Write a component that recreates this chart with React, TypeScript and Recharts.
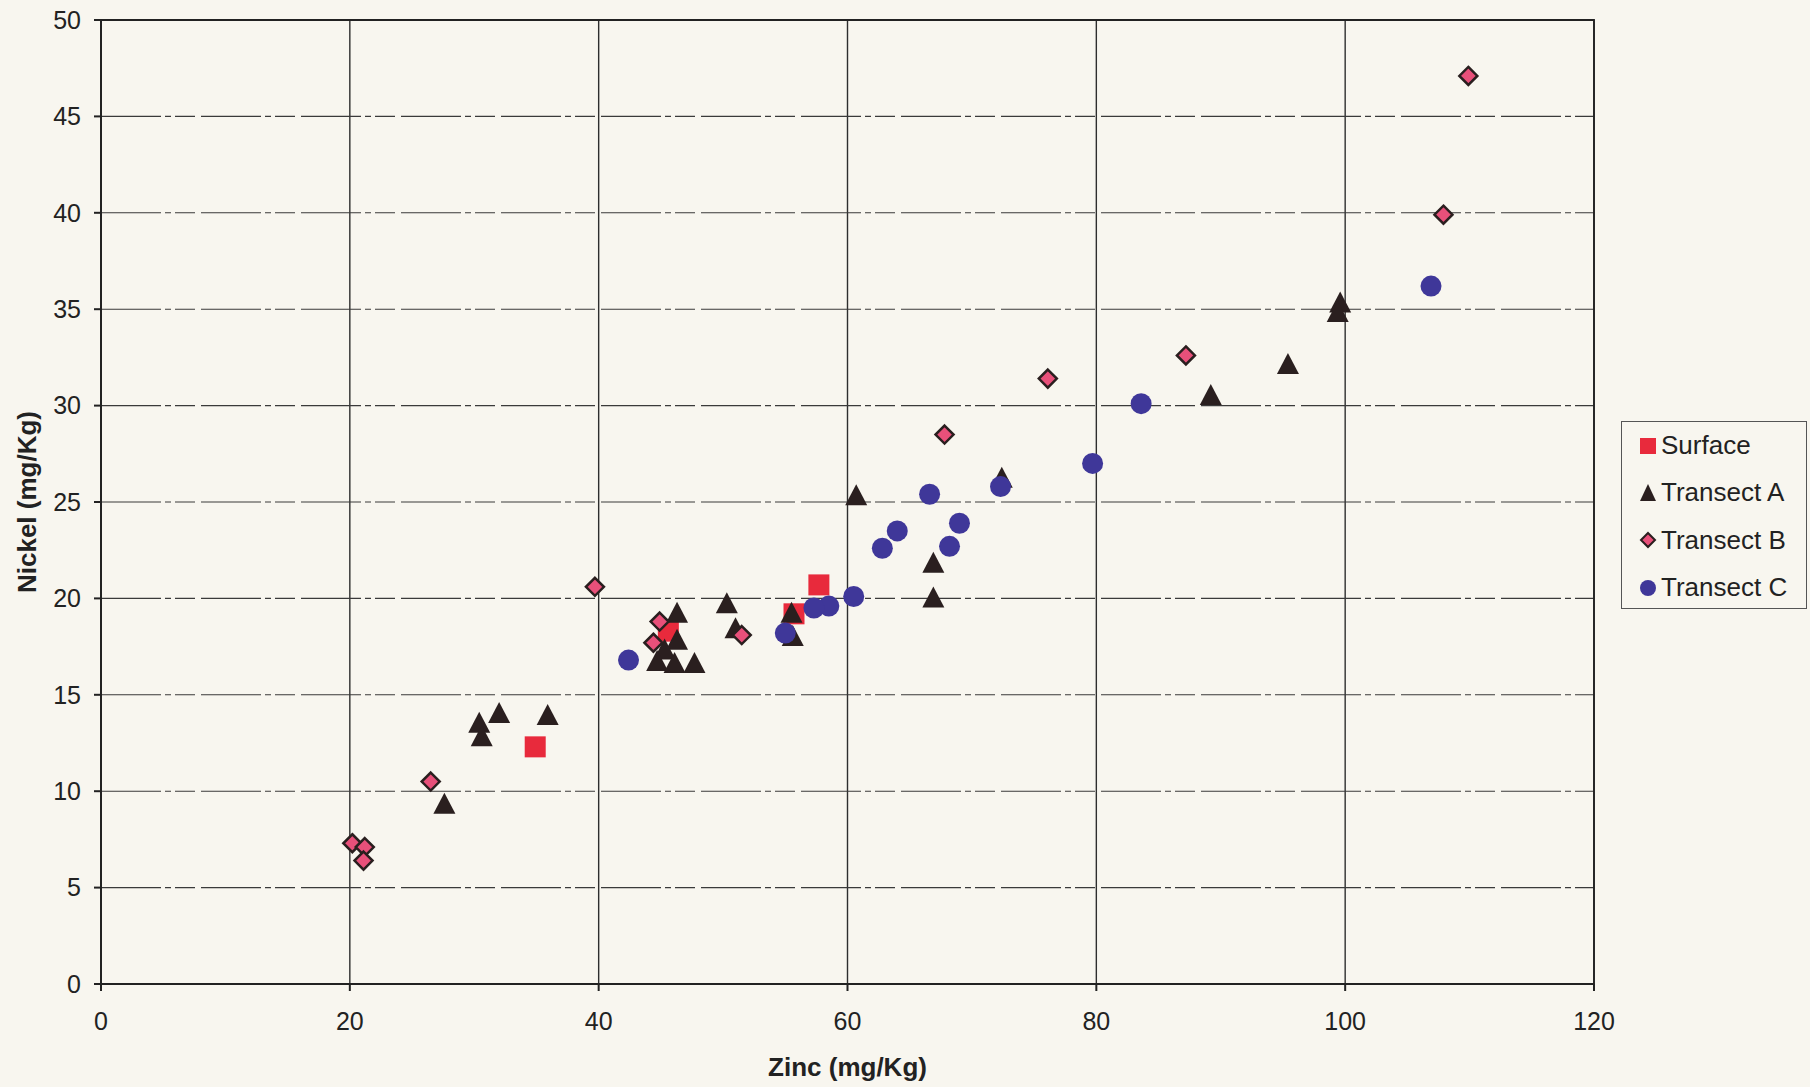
import React from 'react'
import {
  ScatterChart, Scatter, XAxis, YAxis, CartesianGrid, Legend, ReferenceArea,
} from 'recharts'

// values (zinc = x, nickel = y, mg/Kg)
const surfaceZinc = [57.7, 55.7, 45.6, 34.9]
const surfaceNickel = [20.7, 19.2, 18.3, 12.3]

const transectAZinc = [
  99.6, 99.4, 95.4, 89.2, 72.4, 60.7, 66.9, 66.9, 50.3, 46.3, 55.5, 51.0,
  55.6, 46.3, 45.3, 44.7, 46.1, 47.7, 30.4, 30.6, 32.0, 35.9, 27.6,
]
const transectANickel = [
  35.3, 34.8, 32.1, 30.5, 26.2, 25.3, 21.8, 20.0, 19.7, 19.2, 19.2, 18.4,
  18.0, 17.8, 17.3, 16.7, 16.6, 16.6, 13.5, 12.8, 14.0, 13.9, 9.3,
]

const transectBZinc = [109.9, 107.9, 87.2, 76.1, 67.8, 39.7, 44.9, 44.4, 51.5, 26.5, 20.2, 21.2, 21.1]
const transectBNickel = [47.1, 39.9, 32.6, 31.4, 28.5, 20.6, 18.8, 17.7, 18.1, 10.5, 7.3, 7.1, 6.4]

const transectCZinc = [106.9, 83.6, 79.7, 72.3, 66.6, 64.0, 62.8, 69.0, 68.2, 60.5, 58.5, 57.3, 55.0, 42.4]
const transectCNickel = [36.2, 30.1, 27.0, 25.8, 25.4, 23.5, 22.6, 23.9, 22.7, 20.1, 19.6, 19.5, 18.2, 16.8]

const xTicks = [0, 20, 40, 60, 80, 100, 120]
const yTicks = [0, 5, 10, 15, 20, 25, 30, 35, 40, 45, 50]

const seriesNames = ['Surface', 'Transect A', 'Transect B', 'Transect C']

const toPoints = (xs: number[], ys: number[]) => xs.map((x, i) => ({ x, y: ys[i] }))

const FONT = '"Liberation Sans", Arial, sans-serif'
const BG = '#f8f6ef'
const INK = '#222'

const RED = '#e82a3c'
const DARK = '#2a1f1f'
const PINK = '#e8507a'
const BLUE = '#3f3799'

const SquareMark = (props: any) => {
  const { cx, cy } = props
  return <rect x={cx - 10.5} y={cy - 10.5} width={21} height={21} fill={RED} />
}

const TriangleMark = (props: any) => {
  const { cx, cy } = props
  return <polygon points={`${cx},${cy - 12} ${cx + 11},${cy + 9} ${cx - 11},${cy + 9}`} fill={DARK} />
}

const DiamondMark = (props: any) => {
  const { cx, cy } = props
  return (
    <polygon
      points={`${cx},${cy - 9} ${cx + 9},${cy} ${cx},${cy + 9} ${cx - 9},${cy}`}
      fill={PINK}
      stroke={DARK}
      strokeWidth={2.5}
    />
  )
}

const CircleMark = (props: any) => {
  const { cx, cy } = props
  return <circle cx={cx} cy={cy} r={10.5} fill={BLUE} />
}

const legendIcon = (i: number) => {
  if (i === 0) return <rect x={1} y={1} width={16} height={16} fill={RED} />
  if (i === 1) return <polygon points="9,0 17,17 1,17" fill={DARK} />
  if (i === 2) return <polygon points="9,2 16,9 9,16 2,9" fill={PINK} stroke={DARK} strokeWidth={2} />
  return <circle cx={9} cy={9} r={8} fill={BLUE} />
}

const LegendBox = () => (
  <div style={{ paddingLeft: 27 }}>
    <div
      style={{
        width: 186,
        height: 188,
        boxSizing: 'border-box',
        border: '1.5px solid #555',
        background: BG,
        paddingTop: 0,
        fontFamily: FONT,
        fontSize: 26,
        color: INK,
      }}
    >
      {seriesNames.map((name, i) => (
        <div key={name} style={{ display: 'flex', alignItems: 'center', height: 47.3, paddingLeft: 17 }}>
          <svg width={18} height={18} style={{ marginRight: 4 }}>{legendIcon(i)}</svg>
          <span>{name}</span>
        </div>
      ))}
    </div>
  </div>
)

const XLabel = (props: any) => {
  const { viewBox } = props
  return (
    <text
      x={viewBox.x + viewBox.width / 2}
      y={1076}
      textAnchor="middle"
      fontFamily={FONT}
      fontWeight="bold"
      fontSize={26}
      fill={INK}
    >
      Zinc (mg/Kg)
    </text>
  )
}

const YLabel = (props: any) => {
  const { viewBox } = props
  const cy = viewBox.y + viewBox.height / 2
  return (
    <text
      x={36}
      y={cy}
      transform={`rotate(-90, 36, ${cy})`}
      textAnchor="middle"
      fontFamily={FONT}
      fontWeight="bold"
      fontSize={26}
      fill={INK}
    >
      Nickel (mg/Kg)
    </text>
  )
}

export default function App() {
  const tickStyle = { fontFamily: FONT, fontSize: 25, fill: INK }
  return (
    <div style={{ position: 'absolute', left: 0, top: 0, width: 1810, height: 1087, background: BG }}>
      <ScatterChart width={1810} height={1087} margin={{ top: 20, right: 0, bottom: 0, left: 0 }}>
        <CartesianGrid horizontal={false} stroke="#2e2e2e" strokeWidth={1.4} />
        <CartesianGrid vertical={false} stroke="#3a3a3a" strokeWidth={1.1} strokeDasharray="60 4 6 4 20 6" />
        <XAxis
          type="number"
          dataKey="x"
          domain={[0, 120]}
          ticks={xTicks}
          height={103}
          tickSize={7}
          tickMargin={21}
          tick={tickStyle}
          stroke={INK}
          strokeWidth={2}
          label={<XLabel />}
        />
        <YAxis
          type="number"
          dataKey="y"
          domain={[0, 50]}
          ticks={yTicks}
          width={101}
          tickSize={7}
          tickMargin={13}
          tick={tickStyle}
          stroke={INK}
          strokeWidth={2}
          label={<YLabel />}
        />
        <ReferenceArea x1={0} x2={120} y1={0} y2={50} fill="none" stroke={INK} strokeWidth={1.8} />
        <Legend
          layout="vertical"
          align="right"
          verticalAlign="top"
          content={<LegendBox />}
          wrapperStyle={{ top: 421, right: 0, width: 216 }}
        />
        <Scatter name={seriesNames[0]} data={toPoints(surfaceZinc, surfaceNickel)} shape={SquareMark} isAnimationActive={false} />
        <Scatter name={seriesNames[1]} data={toPoints(transectAZinc, transectANickel)} shape={TriangleMark} isAnimationActive={false} />
        <Scatter name={seriesNames[2]} data={toPoints(transectBZinc, transectBNickel)} shape={DiamondMark} isAnimationActive={false} />
        <Scatter name={seriesNames[3]} data={toPoints(transectCZinc, transectCNickel)} shape={CircleMark} isAnimationActive={false} />
      </ScatterChart>
    </div>
  )
}
